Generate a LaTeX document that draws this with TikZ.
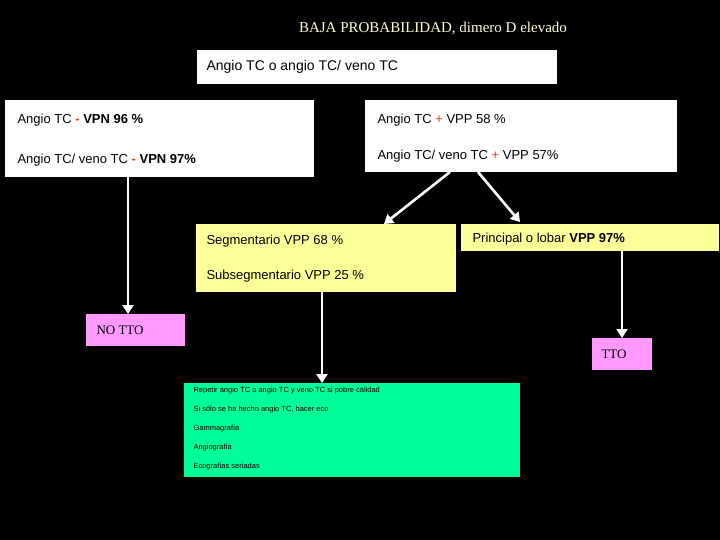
\documentclass[tikz,border=0pt]{standalone}
\usepackage{fontspec}
\setmainfont{Liberation Sans}
\newfontfamily\serf{Liberation Serif}
\usetikzlibrary{arrows.meta}
\definecolor{pyel}{HTML}{FFFF99}
\definecolor{pnk}{HTML}{FF99FF}
\definecolor{grn}{HTML}{00FF99}
\definecolor{ttl}{HTML}{FFFFCC}
\definecolor{sgn}{HTML}{E0401A}
\begin{document}
\begin{tikzpicture}[x=1pt,y=-1pt,
  bx/.style={draw=none,anchor=north west,inner sep=0pt,outer sep=0pt},
  lt/.style={anchor=west,font=\fontsize{13}{13}\selectfont},
  ar/.style={draw=white,line width=2.6pt,-{Triangle[length=9pt,width=11pt]}}]
\fill[black] (0,0) rectangle (720,540);
\useasboundingbox (0,0) rectangle (720,540);
\node[text=ttl,font=\serf\fontsize{15}{15}\selectfont] (title) at (433,28) {BAJA PROBABILIDAD, {\color{ttl!80!white}dimero D elevado}};
\fill[white] (197,50) rectangle (557,84);
\node[lt,font=\fontsize{14}{14}\selectfont] (q) at (203,67) {Angio TC o angio TC/ veno TC};
% left white
\fill[white] (5,100) rectangle (314,177);
\coordinate (L) at (128,177);
\node[lt] at (14,120) {Angio TC \textcolor{sgn}{\textbf{-}} \textbf{VPN 96 \%}};
\node[lt] at (14,160) {Angio TC/ veno TC \textcolor{sgn}{\textbf{-}} \textbf{VPN 97\%}};
% right white
\fill[white] (365,100) rectangle (677,172);
\node[lt] at (374,120) {Angio TC \textcolor{sgn}{+} VPP 58 \%};
\node[lt] at (374,156) {Angio TC/ veno TC \textcolor{sgn}{+} VPP 57\%};
\coordinate (R1) at (450,172);
\coordinate (R2) at (478,172);
% yellow boxes
\fill[pyel] (196,224) rectangle (456,292);
\node[lt] at (203,241) {Segmentario VPP 68 \%};
\node[lt] at (203,276) {Subsegmentario VPP 25 \%};
\coordinate (S) at (322,292);
\coordinate (Stop) at (384,224);
\fill[pyel] (461,224) rectangle (719,251);
\node[lt] at (469,239) {Principal o lobar \textbf{VPP 97\%}};
\coordinate (P) at (622,251);
\coordinate (Ptop) at (520,222);
% pink
\node[bx,fill=pnk,minimum width=99pt,minimum height=32pt] (no) at (86,314) {};
\node[anchor=west,font=\serf\fontsize{13}{13}\selectfont] at (93,330) {NO TTO};
\node[bx,fill=pnk,minimum width=60pt,minimum height=32pt] (tto) at (592,338) {};
\node[anchor=west,font=\serf\fontsize{13}{13}\selectfont] at (598,354) {TTO};
% green
\node[bx,fill=grn,minimum width=336pt,minimum height=94pt] (g) at (184,383) {};
\begin{scope}[every node/.style={anchor=west,font=\fontsize{7.5}{7.5}\selectfont}]
\node at (190,391) {Repetir angio TC o angio TC y veno TC si pobre calidad};
\node at (190,410) {Si sólo se ha hecho angio TC, hacer eco};
\node at (190,429) {Gammagrafía};
\node at (190,448) {Angiografía};
\node at (190,467) {Ecografías seriadas};
\end{scope}
% arrows
\draw[ar] (L) -- (no.north -| L);
\draw[ar] (R1) -- (Stop);
\draw[ar] (R2) -- (Ptop);
\draw[ar] (S) -- (g.north -| S);
\draw[ar] (P) -- (tto.north -| P);
\end{tikzpicture}
\end{document}
